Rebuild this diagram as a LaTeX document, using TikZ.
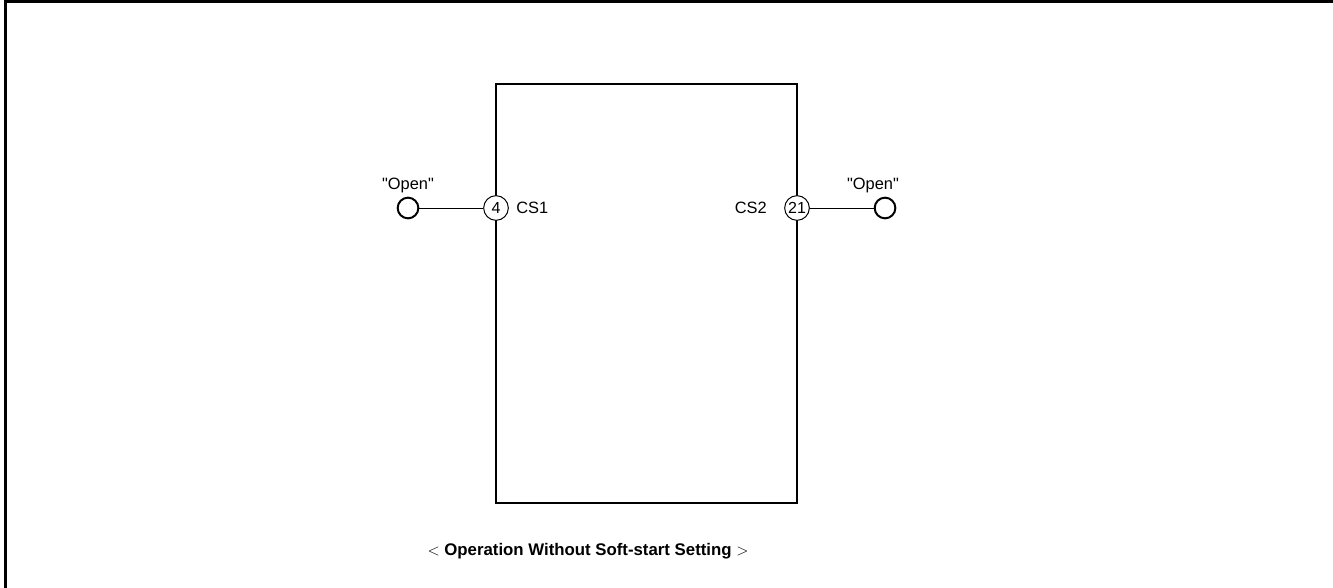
\documentclass[tikz,border=0pt]{standalone}
\usepackage{fontspec}
\setmainfont{Liberation Sans}
\begin{document}
\begin{tikzpicture}[x=0.75pt,y=-0.75pt,
  pin/.style={circle,draw,fill=white,line width=0.75pt,minimum size=18.5pt,inner sep=0pt,font=\fontsize{12}{14}\selectfont},
  term/.style={circle,draw,line width=1.5pt,minimum size=15.5pt,inner sep=0pt},
  lbl/.style={font=\fontsize{12.3}{14}\selectfont,inner sep=0pt},
  wire/.style={line width=0.75pt}]
\useasboundingbox (0,0) rectangle (1333,588);
\draw[line width=2.25pt] (1333,2) -- (5,2) -- (5,588);
\draw[line width=1.5pt] (496,84) rectangle (797,503);
\node[pin] (p4) at (496,208) {4};
\node[pin] (p21) at (797,208) {21};
\node[term] (t1) at (408,208) {};
\node[term] (t2) at (885,208) {};
\draw[wire] (t1) -- (p4);
\draw[wire] (p21) -- (t2);
\node[lbl,anchor=south] (o1) at (408,193) {\textquotedbl Open\textquotedbl};
\node[lbl,anchor=south] (o2) at (873,193) {\textquotedbl Open\textquotedbl};
\node[lbl,anchor=west] (cs1) at (516,208) {CS1};
\node[lbl,anchor=east] (cs2) at (767,208) {CS2};
\node[lbl,font=\fontsize{12.6}{14}\selectfont] (cap) at (588,551) {$<$ \textbf{Operation Without Soft-start Setting} $>$};
\end{tikzpicture}
\end{document}
